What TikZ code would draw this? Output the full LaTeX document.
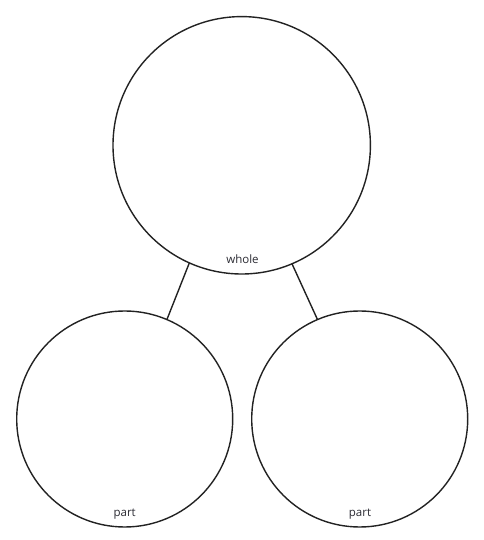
\documentclass[tikz,border=0pt]{standalone}
\usepackage{fontspec}
\setmainfont{Open Sans}
\definecolor{ink}{HTML}{222222}
\definecolor{txt}{HTML}{2B2B33}
\begin{document}
\begin{tikzpicture}[x=1pt,y=1pt,
  ring/.style={circle,draw=ink,line width=1.4pt,inner sep=0pt,outer sep=0pt},
  link/.style={draw=ink,line width=1.4pt},
  lbl/.style={anchor=base,text=txt,font=\fontsize{11.5}{13}\selectfont,inner sep=0pt}]
\useasboundingbox (0,0) rectangle (483,540);
\node[ring,minimum size=257.4pt] (whole) at (241.7,394.7) {};
\node[ring,minimum size=216pt] (left) at (124.7,121) {};
\node[ring,minimum size=216pt] (right) at (359.7,121) {};
\node[lbl] (wt) at (242.5,276.7) {whole};
\node[lbl] (lt) at (124.7,23) {part};
\node[lbl] (rt) at (360,23) {part};
\draw[link] (whole.246.9) -- (left.67.2);
\draw[link] (whole.293.3) -- (right.113.6);
\end{tikzpicture}
\end{document}
